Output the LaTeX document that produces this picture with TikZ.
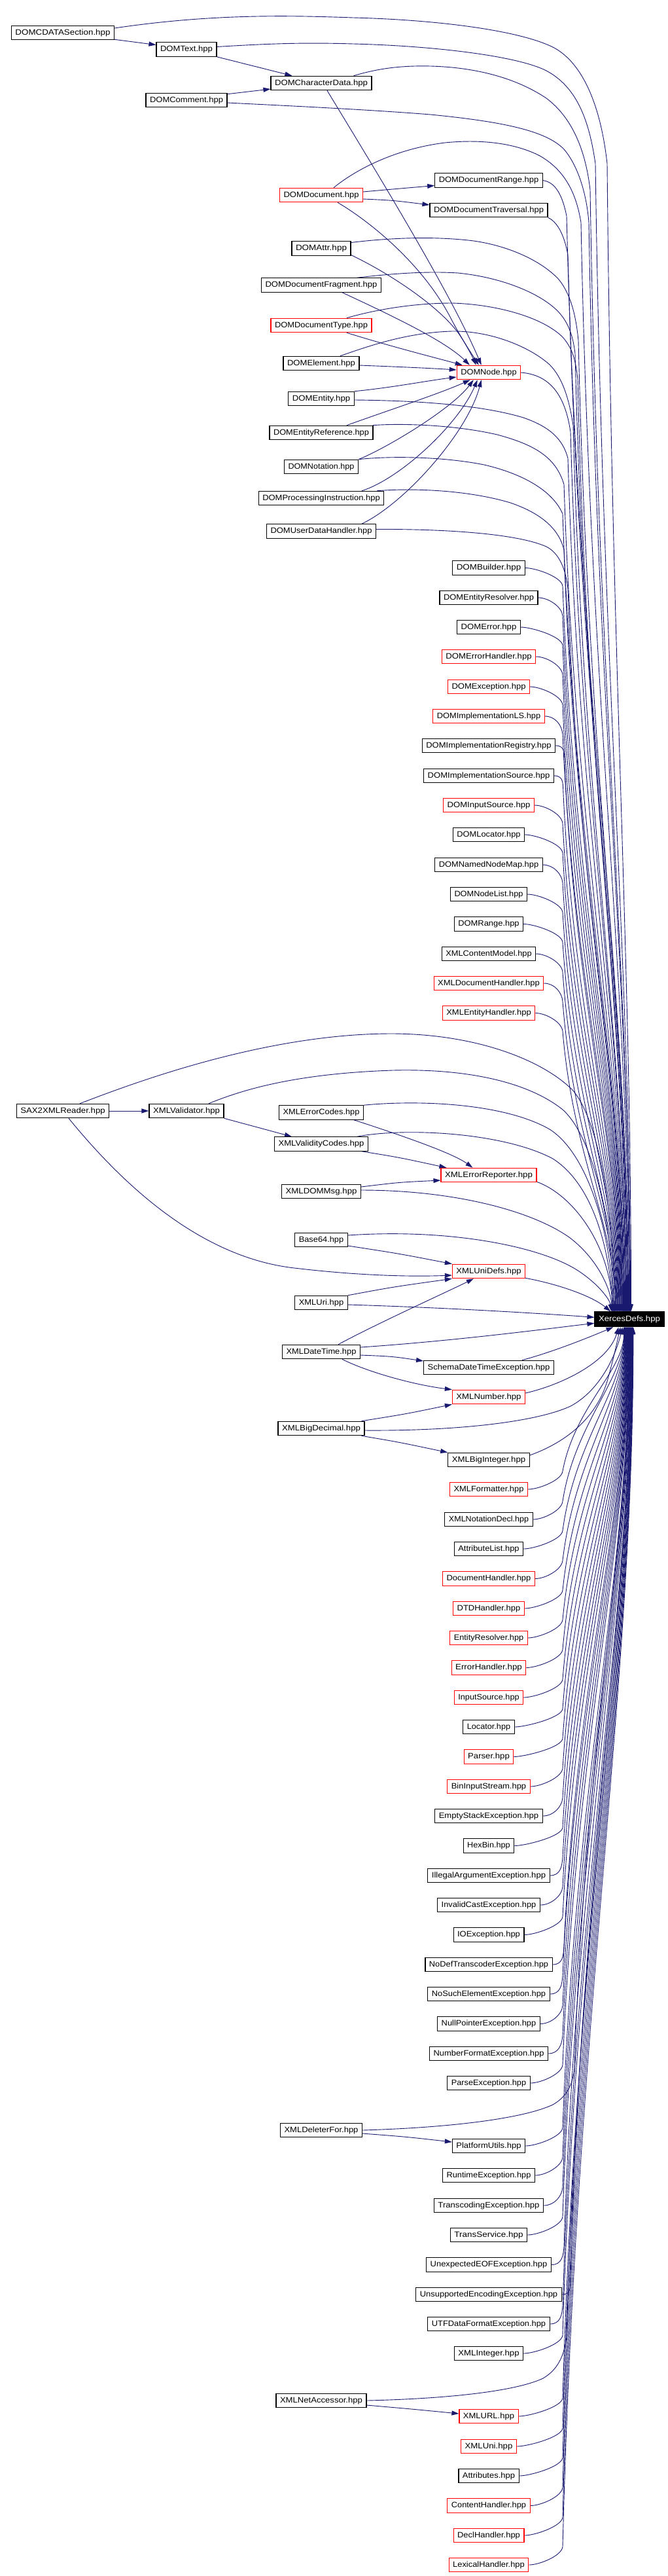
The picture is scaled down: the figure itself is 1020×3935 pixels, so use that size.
\documentclass[tikz,border=0pt]{standalone}
\usepackage{fontspec}
\usepackage{graphicx}
\setmainfont{Liberation Sans}
\usetikzlibrary{arrows.meta,calc}
\definecolor{edgeblue}{HTML}{191970}
\definecolor{boxred}{HTML}{FF0000}
\pgfdeclarelayer{paper}
\pgfdeclarelayer{wires}
\pgfsetlayers{paper,wires,main}
\newsavebox\ftbox
% text squeezed/stretched horizontally to fill a box of width #1 (px)
\newcommand{\ft}[2]{\sbox\ftbox{#2}\pgfmathsetmacro\ftsx{(#1-12)/\the\wd\ftbox}\scalebox{\ftsx}[1]{\usebox\ftbox}}
\tikzset{
  fbox/.style={draw=black, line width=1.1pt, fill=white, inner xsep=6pt, inner ysep=0pt, minimum height=21.5pt, font=\fontsize{12}{14}\selectfont, text=black},
  rbox/.style={fbox, draw=boxred},
  edge/.style={draw=edgeblue, line width=0.9pt, -{Triangle[length=11pt,width=7pt]}},
}
\newcommand{\XTop}[4]{\draw[edge] #1 .. controls ({#2+0.2*(909+#4-#2)},{#3+0.45*(2004-#3)}) and ({909+#4},{2004-0.3*(2004-#3)}) .. ([xshift=#4pt]xd.north west);}
\newcommand{\XBot}[4]{\draw[edge] #1 .. controls ({#2+0.2*(909+#4-#2)},{#3-0.45*(#3-2027)}) and ({909+#4},{2027+0.3*(#3-2027)}) .. ([xshift=#4pt]xd.south west);}
\newcommand{\RTop}[4]{\XTop{(#1.east) .. controls +(16,0) and ({#2-1},{#3-14}) .. (#2,#3)}{#2}{#3}{#4}}
\newcommand{\RBot}[4]{\XBot{(#1.east) .. controls +(16,0) and ({#2-1},{#3+14}) .. (#2,#3)}{#2}{#3}{#4}}
\begin{document}
\begin{tikzpicture}[x=1pt,y=-1pt]
\useasboundingbox (0,0) rectangle (1020,3935);
\begin{pgfonlayer}{paper}
\fill[white] (0,0) rectangle (1020,3935);
\end{pgfonlayer}
% ---------- nodes ----------
\node[fbox] (cdata) at (96,50) {\ft{157}{DOMCDATASection.hpp}};
\node[fbox] (text) at (285,75.5) {\ft{92}{DOMText.hpp}};
\node[fbox] (cd) at (491,127) {\ft{154}{DOMCharacterData.hpp}};
\node[fbox] (comm) at (285,153) {\ft{124}{DOMComment.hpp}};
\node[rbox] (doc) at (491,298) {\ft{127}{DOMDocument.hpp}};
\node[fbox] (drange) at (747,275.5) {\ft{164.5}{DOMDocumentRange.hpp}};
\node[fbox] (dtrav) at (747,321) {\ft{180}{DOMDocumentTraversal.hpp}};
\node[fbox] (attr) at (491,379.5) {\ft{90}{DOMAttr.hpp}};
\node[fbox] (frag) at (491,435.5) {\ft{183}{DOMDocumentFragment.hpp}};
\node[rbox] (dtype) at (491,497) {\ft{154}{DOMDocumentType.hpp}};
\node[fbox] (elem) at (491,555) {\ft{116}{DOMElement.hpp}};
\node[rbox] (node) at (747,569) {\ft{97.4}{DOMNode.hpp}};
\node[fbox] (ent) at (491,609) {\ft{100.5}{DOMEntity.hpp}};
\node[fbox] (eref) at (491,661) {\ft{158}{DOMEntityReference.hpp}};
\node[fbox] (nota) at (491,713) {\ft{113}{DOMNotation.hpp}};
\node[fbox] (proc) at (491,761) {\ft{191.5}{DOMProcessingInstruction.hpp}};
\node[fbox] (udh) at (491,811.5) {\ft{167}{DOMUserDataHandler.hpp}};
\node[fbox] (builder) at (747,867.5) {\ft{110.5}{DOMBuilder.hpp}};
\node[fbox] (eres) at (747,913) {\ft{150}{DOMEntityResolver.hpp}};
\node[fbox] (err) at (747,958) {\ft{96.7}{DOMError.hpp}};
\node[rbox] (errh) at (747,1003) {\ft{143.4}{DOMErrorHandler.hpp}};
\node[rbox] (exc) at (747,1049) {\ft{125}{DOMException.hpp}};
\node[rbox] (ils) at (747,1094) {\ft{170.4}{DOMImplementationLS.hpp}};
\node[fbox] (ireg) at (747,1139) {\ft{203.3}{DOMImplementationRegistry.hpp}};
\node[fbox] (isrc) at (747,1185) {\ft{198.7}{DOMImplementationSource.hpp}};
\node[rbox] (insrc) at (747,1230) {\ft{138.8}{DOMInputSource.hpp}};
\node[fbox] (loc) at (747,1275) {\ft{109.2}{DOMLocator.hpp}};
\node[fbox] (nnm) at (747,1321) {\ft{164.5}{DOMNamedNodeMap.hpp}};
\node[fbox] (nlist) at (747,1366) {\ft{117}{DOMNodeList.hpp}};
\node[fbox] (range) at (747,1411.5) {\ft{105.3}{DOMRange.hpp}};
\node[fbox] (cmodel) at (747,1457) {\ft{143.4}{XMLContentModel.hpp}};
\node[rbox] (dochand) at (747,1502) {\ft{167.8}{XMLDocumentHandler.hpp}};
\node[rbox] (enthand) at (747,1547.5) {\ft{141.5}{XMLEntityHandler.hpp}};
\node[fbox] (sax) at (96,1697) {\ft{141.5}{SAX2XMLReader.hpp}};
\node[fbox] (val) at (285,1697) {\ft{114}{XMLValidator.hpp}};
\node[fbox] (ecodes) at (491,1699.5) {\ft{129}{XMLErrorCodes.hpp}};
\node[fbox] (vcodes) at (491,1747.5) {\ft{143}{XMLValidityCodes.hpp}};
\node[rbox] (erep) at (747,1795) {\ft{146}{XMLErrorReporter.hpp}};
\node[fbox] (dommsg) at (491,1820) {\ft{121}{XMLDOMMsg.hpp}};
\node[fbox] (b64) at (491,1894) {\ft{80.5}{Base64.hpp}};
\node[rbox] (unidefs) at (747,1942) {\ft{111.2}{XMLUniDefs.hpp}};
\node[fbox] (uri) at (491,1990) {\ft{80.5}{XMLUri.hpp}};
\node[fbox, minimum height=22.7pt, fill=black, text=white] (xd) at (962,2015.3) {\ft{106}{XercesDefs.hpp}};
\node[fbox] (dt) at (491,2065) {\ft{119}{XMLDateTime.hpp}};
\node[fbox] (sdt) at (747,2089) {\ft{198.7}{SchemaDateTimeException.hpp}};
\node[rbox] (num) at (747,2134) {\ft{111.2}{XMLNumber.hpp}};
\node[fbox] (bd) at (491,2182) {\ft{132}{XMLBigDecimal.hpp}};
\node[fbox] (bigint) at (747,2230) {\ft{124.4}{XMLBigInteger.hpp}};
\node[rbox] (fmt) at (747,2275) {\ft{119}{XMLFormatter.hpp}};
\node[fbox] (notdecl) at (747,2321) {\ft{134.2}{XMLNotationDecl.hpp}};
\node[fbox] (alist) at (747,2366) {\ft{105.3}{AttributeList.hpp}};
\node[rbox] (dh) at (747,2411.5) {\ft{140.8}{DocumentHandler.hpp}};
\node[rbox] (dtdh) at (747,2457) {\ft{108.6}{DTDHandler.hpp}};
\node[rbox] (er) at (747,2502) {\ft{118.4}{EntityResolver.hpp}};
\node[rbox] (eh) at (747,2547.5) {\ft{113.8}{ErrorHandler.hpp}};
\node[rbox] (is) at (747,2593) {\ft{105.3}{InputSource.hpp}};
\node[fbox] (locat) at (747,2638) {\ft{78.3}{Locator.hpp}};
\node[rbox] (parser) at (747,2683.5) {\ft{75.7}{Parser.hpp}};
\node[rbox] (bis) at (747,2729) {\ft{126.3}{BinInputStream.hpp}};
\node[fbox] (ese) at (747,2774) {\ft{164.5}{EmptyStackException.hpp}};
\node[fbox] (hexbin) at (747,2819.5) {\ft{77.6}{HexBin.hpp}};
\node[fbox] (iae) at (747,2865) {\ft{186.2}{IllegalArgumentException.hpp}};
\node[fbox] (ice) at (747,2910) {\ft{156.6}{InvalidCastException.hpp}};
\node[fbox] (ioe) at (747,2955.5) {\ft{107.9}{IOException.hpp}};
\node[fbox] (ndte) at (747,3001) {\ft{194.1}{NoDefTranscoderException.hpp}};
\node[fbox] (nsee) at (747,3046) {\ft{186.2}{NoSuchElementException.hpp}};
\node[fbox] (npe) at (747,3091.5) {\ft{156.6}{NullPointerException.hpp}};
\node[fbox] (nfe) at (747,3137) {\ft{181}{NumberFormatException.hpp}};
\node[fbox] (pe) at (747,3182) {\ft{126.3}{ParseException.hpp}};
\node[fbox] (del) at (491,3254) {\ft{125}{XMLDeleterFor.hpp}};
\node[fbox] (pu) at (747,3278) {\ft{111.2}{PlatformUtils.hpp}};
\node[fbox] (rte) at (747,3323) {\ft{140.8}{RuntimeException.hpp}};
\node[fbox] (tce) at (747,3369) {\ft{167.1}{TranscodingException.hpp}};
\node[fbox] (ts) at (747,3414) {\ft{117.1}{TransService.hpp}};
\node[fbox] (ueof) at (747,3459.5) {\ft{190.8}{UnexpectedEOFException.hpp}};
\node[fbox] (uee) at (747,3505) {\ft{222.4}{UnsupportedEncodingException.hpp}};
\node[fbox] (utf) at (747,3550) {\ft{186.2}{UTFDataFormatException.hpp}};
\node[fbox] (xint) at (747,3595) {\ft{105.3}{XMLInteger.hpp}};
\node[fbox] (na) at (491,3667) {\ft{138}{XMLNetAccessor.hpp}};
\node[rbox] (url) at (747,3691) {\ft{90.1}{XMLURL.hpp}};
\node[rbox] (xuni) at (747,3737) {\ft{84.9}{XMLUni.hpp}};
\node[fbox] (attrs) at (747,3782) {\ft{92.1}{Attributes.hpp}};
\node[rbox] (ch) at (747,3827.5) {\ft{126.3}{ContentHandler.hpp}};
\node[rbox] (declh) at (747,3873) {\ft{107.9}{DeclHandler.hpp}};
\node[rbox] (lexh) at (747,3918) {\ft{121.7}{LexicalHandler.hpp}};
% ---------- connectors ----------
\begin{pgfonlayer}{wires}
\draw[edge] ($(cdata.south east)+(0,-1)$) -- ($(text.west)+(0,-7)$);
\draw[edge] (text.south east) -- ($(cd.north west)+(33,0)$);
\draw[edge] ($(comm.north east)+(0,2)$) -- ($(cd.west)+(0,9)$);
\draw[edge] ($(doc.east)+(0,-5)$) .. controls (600,289) .. ($(drange.west)+(0,8)$);
\draw[edge] ($(doc.east)+(0,6)$) .. controls (600,306) .. ($(dtrav.west)+(0,-8)$);
% into DOMNode
\draw[edge] ($(cd.south)+(9,0)$) .. controls (580,270) and (690,450) .. ($(node.north west)+(38,0)$);
\draw[edge] ($(doc.south)+(25,0)$) .. controls (560,335) and (645,400) .. (690,488) .. controls (708,522) and (722,542) .. ($(node.north west)+(34,0)$);
\draw[edge] ($(attr.east)+(0,10)$) .. controls (600,420) and (670,468) .. (700,508) .. controls (712,525) and (722,545) .. ($(node.north west)+(30,0)$);
\draw[edge] ($(frag.south)+(32,0)$) .. controls (590,478) and (680,520) .. ($(node.north west)+(20,0)$);
\draw[edge] ($(dtype.south)+(39,0)$) .. controls (600,530) and (660,545) .. ($(node.north west)+(9,0)$);
\draw[edge] ($(elem.east)+(0,3)$) .. controls (600,560) and (650,562) .. ($(node.west)+(0,-4)$);
\draw[edge] (ent.north east) .. controls (600,592) and (650,582) .. ($(node.west)+(0,7)$);
\draw[edge] ($(eref.north)+(39,0)$) .. controls (590,628) and (670,602) .. ($(node.south west)+(21,0)$);
\draw[edge] (nota.north east) .. controls (590,685) and (690,625) .. ($(node.south west)+(26,0)$);
\draw[edge] ($(proc.north)+(62,0)$) .. controls (610,732) and (700,650) .. ($(node.south west)+(32,0)$);
\draw[edge] ($(udh.north)+(62,0)$) .. controls (620,768) and (715,660) .. ($(node.south west)+(38,0)$);
% long connectors into XercesDefs from above
\XTop{($(cdata.east)+(0,-7)$) .. controls (330,20) and (450,24) .. (540,27) .. controls (660,30) and (790,45) .. (845,72) .. controls (890,95) and (918,160) .. (928,250)}{928}{250}{56}
\XTop{($(text.east)+(0,-4)$) .. controls (420,66) and (470,65) .. (540,67) .. controls (660,70) and (790,85) .. (835,108) .. controls (880,132) and (900,180) .. (910,250)}{910}{250}{55}
\XTop{($(cd.north east)+(-28,0)$) .. controls (580,104) and (615,100) .. (658,101) .. controls (730,103) and (790,120) .. (835,150) .. controls (875,180) and (895,230) .. (902,290)}{902}{290}{54}
\XTop{($(comm.east)+(0,4)$) .. controls (470,163) and (570,168) .. (658,175) .. controls (770,186) and (835,200) .. (862,228) .. controls (885,255) and (897,300) .. (900,340)}{900}{340}{54}
\XTop{($(doc.north)+(19,0)$) .. controls (540,262) and (600,228) .. (680,218) .. controls (740,212) and (790,220) .. (825,238) .. controls (860,258) and (880,290) .. (888,340)}{888}{340}{53}
\XTop{(drange.east) .. controls (845,278) and (858,290) .. (866,330)}{866}{330}{52}
\XTop{(dtrav.south east) .. controls (850,338) and (862,355) .. (868,390)}{868}{390}{51}
\XTop{($(attr.east)+(0,-9)$) .. controls (590,364) and (660,360) .. (724,368) .. controls (780,376) and (830,400) .. (855,428) .. controls (872,450) and (880,480) .. (884,520)}{884}{520}{51}
\XTop{($(frag.north)+(55,0)$) .. controls (600,418) and (650,414) .. (700,417) .. controls (770,424) and (830,450) .. (855,478) .. controls (870,495) and (876,515) .. (879,540)}{879}{540}{50}
\XTop{($(dtype.north)+(39,0)$) .. controls (570,474) and (630,463) .. (691,463) .. controls (760,465) and (830,485) .. (860,515) .. controls (875,532) and (880,550) .. (883,580)}{883}{580}{49}
\XTop{($(elem.north)+(29,0)$) .. controls (560,530) and (620,508) .. (691,506) .. controls (750,505) and (810,530) .. (840,557) .. controls (860,577) and (870,610) .. (876,650)}{876}{650}{48}
\XTop{(node.east) .. controls (830,572) and (862,590) .. (872,660)}{872}{660}{48}
\XTop{($(ent.east)+(0,2)$) .. controls (650,612) and (740,620) .. (800,638) .. controls (840,652) and (860,670) .. (868,700)}{868}{700}{47}
\XTop{($(eref.north east)+(-1,0)$) .. controls (620,646) and (700,650) .. (760,664) .. controls (820,680) and (850,700) .. (862,740)}{862}{740}{46}
\XTop{(nota.north east) .. controls (600,696) and (680,698) .. (740,710) .. controls (800,724) and (845,750) .. (860,785)}{860}{785}{45}
\XTop{($(proc.north east)+(-11,0)$) .. controls (640,745) and (720,750) .. (780,768) .. controls (830,785) and (855,810) .. (862,840)}{862}{840}{45}
\XTop{($(udh.east)+(0,-3)$) .. controls (680,808) and (790,815) .. (835,835) .. controls (855,845) and (865,870) .. (868,900)}{868}{900}{44}
\RTop{builder}{860}{895.5}{43}
\RTop{eres}{860}{941}{42.5}
\RTop{err}{860}{986}{41.75}
\RTop{errh}{860}{1031}{41}
\RTop{exc}{860}{1077}{40.25}
\RTop{ils}{860}{1122}{39.5}
\RTop{ireg}{863}{1167}{38.75}
\RTop{isrc}{861}{1213}{38}
\RTop{insrc}{860}{1258}{37.25}
\RTop{loc}{860}{1303}{36.5}
\RTop{nnm}{860}{1349}{35.75}
\RTop{nlist}{860}{1394}{35}
\RTop{range}{860}{1439.5}{34.25}
\RTop{cmodel}{860}{1485}{33.5}
\RTop{dochand}{860}{1530}{32.75}
\RTop{enthand}{860}{1575.5}{32}
% SAX / validator block
\draw[edge] (sax.east) -- (val.west);
\draw[edge] ($(sax.north)+(26,0)$) .. controls (190,1660) and (400,1578) .. (602,1579) .. controls (730,1580) and (830,1620) .. (875,1665) .. controls (915,1710) and (938,1850) .. ([xshift=31pt]xd.north west);
\draw[edge] ($(sax.south)+(9,0)$) .. controls (180,1800) and (300,1920) .. (450,1937) .. controls (560,1950) and (640,1950) .. ($(unidefs.west)+(0,6)$);
\draw[edge] ($(val.north)+(34,0)$) .. controls (370,1665) and (450,1640) .. (600,1635) .. controls (720,1632) and (810,1655) .. (860,1695) .. controls (905,1735) and (935,1860) .. ([xshift=30pt]xd.north west);
\draw[edge] (val.south east) -- ($(vcodes.north west)+(27,0)$);
\draw[edge] (ecodes.north east) .. controls (640,1680) and (770,1685) .. (840,1725) .. controls (895,1760) and (932,1870) .. ([xshift=30pt]xd.north west);
\draw[edge] ($(ecodes.south east)+(-15,0)$) .. controls (600,1730) and (690,1760) .. ($(erep.north west)+(49,0)$);
\draw[edge] ($(vcodes.north)+(55,0)$) .. controls (620,1722) and (770,1730) .. (845,1770) .. controls (900,1805) and (930,1890) .. ([xshift=29pt]xd.north west);
\draw[edge] ($(vcodes.south east)+(-10,0)$) .. controls (610,1768) .. ($(erep.north west)+(9,0)$);
\draw[edge] ($(dommsg.east)+(0,-7)$) .. controls (610,1806) .. ($(erep.west)+(0,8)$);
\draw[edge] ($(dommsg.east)+(0,-2)$) .. controls (690,1818) and (810,1848) .. (870,1890) .. controls (910,1920) and (933,1965) .. ([xshift=27pt]xd.north west);
\draw[edge] ($(erep.south east)+(0,-1)$) .. controls (875,1825) and (932,1900) .. ([xshift=28pt]xd.north west);
\draw[edge] ($(b64.east)+(0,9)$) .. controls (610,1915) .. (unidefs.north west);
\draw[edge] ($(b64.east)+(0,-7)$) .. controls (690,1876) and (830,1905) .. (885,1942) .. controls (915,1962) and (932,1985) .. ([xshift=26pt]xd.north west);
\draw[edge] ($(unidefs.south east)+(0,-1)$) .. controls (855,1962) and (905,1980) .. ([xshift=25pt]xd.north west);
\draw[edge] (uri.north east) .. controls (600,1966) .. (unidefs.south west);
\draw[edge] ($(uri.east)+(0,3)$) .. controls (700,1998) and (850,2008) .. ($(xd.west)+(0,-3)$);
% date/time & numbers
\draw[edge] ($(dt.north)+(26,0)$) .. controls (580,2020) and (680,1975) .. ($(unidefs.south west)+(33,0)$);
\draw[edge] ($(dt.east)+(0,-7)$) .. controls (700,2048) and (850,2028) .. ($(xd.west)+(0,6)$);
\draw[edge] ($(dt.east)+(0,5)$) .. controls (600,2072) .. ($(sdt.west)+(0,-10)$);
\draw[edge] ($(dt.south)+(32,0)$) .. controls (560,2095) and (630,2115) .. (num.north west);
\draw[edge] ($(sdt.north)+(51,0)$) .. controls (845,2065) and (895,2045) .. ([xshift=29pt]xd.south west);
\draw[edge] ($(num.east)+(0,-6)$) .. controls (860,2115) and (930,2080) .. ([xshift=37pt]xd.south west);
\draw[edge] ($(bd.north east)+(-5,0)$) .. controls (620,2160) .. (num.south west);
\draw[edge] ($(bd.east)+(0,3)$) .. controls (700,2186) and (820,2172) .. (872,2148) .. controls (915,2125) and (940,2075) .. ([xshift=43pt]xd.south west);
\draw[edge] ($(bd.south east)+(-5,0)$) .. controls (610,2203) .. (bigint.north west);
\draw[edge] ($(bigint.east)+(0,-7)$) .. controls (860,2205) and (910,2170) .. (928,2110) .. controls (938,2075) and (943,2050) .. ([xshift=40pt]xd.south west);
% long connectors into XercesDefs from below
\RBot{fmt}{860}{2247}{45}
\RBot{notdecl}{860}{2293}{45.4}
\RBot{alist}{860}{2338}{45.8}
\RBot{dh}{860}{2383.5}{46.2}
\RBot{dtdh}{860}{2429}{46.6}
\RBot{er}{860}{2474}{47}
\RBot{eh}{860}{2519.5}{47.4}
\RBot{is}{860}{2565}{47.8}
\RBot{locat}{860}{2610}{48.2}
\RBot{parser}{860}{2655.5}{48.6}
\RBot{bis}{860}{2701}{49}
\RBot{ese}{860}{2746}{49.4}
\RBot{hexbin}{860}{2791.5}{49.8}
\RBot{iae}{860}{2837}{50.2}
\RBot{ice}{860}{2882}{50.6}
\RBot{ioe}{860}{2927.5}{51}
\RBot{ndte}{862}{2973}{51.4}
\RBot{nsee}{860}{3018}{51.8}
\RBot{npe}{860}{3063.5}{52.2}
\RBot{nfe}{860}{3109}{52.6}
\RBot{pe}{860}{3154}{53}
\XBot{(del.east) .. controls (690,3250) and (800,3236) .. (845,3215) .. controls (866,3203) and (875,3185) .. (878,3160)}{878}{3160}{53.4}
\draw[edge] ($(del.east)+(0,5)$) .. controls (620,3264) .. ($(pu.west)+(0,-6)$);
\RBot{pu}{860}{3250}{53.8}
\RBot{rte}{860}{3295}{54.2}
\RBot{tce}{860}{3341}{54.6}
\RBot{ts}{860}{3386}{55}
\RBot{ueof}{862}{3431.5}{55.4}
\RBot{uee}{872}{3477}{55.8}
\RBot{utf}{860}{3522}{56.2}
\RBot{xint}{860}{3567}{56.6}
\XBot{(na.east) .. controls (690,3664) and (790,3652) .. (830,3633) .. controls (852,3620) and (862,3600) .. (866,3570)}{866}{3570}{57}
\draw[edge] ($(na.east)+(0,7)$) .. controls (630,3680) .. ($(url.west)+(0,-4)$);
\RBot{url}{860}{3663}{57.4}
\RBot{xuni}{860}{3709}{57.8}
\RBot{attrs}{860}{3754}{58.2}
\RBot{ch}{860}{3799.5}{58.6}
\RBot{declh}{860}{3845}{59}
\RBot{lexh}{860}{3890}{59.4}
\end{pgfonlayer}
\end{tikzpicture}
\end{document}
